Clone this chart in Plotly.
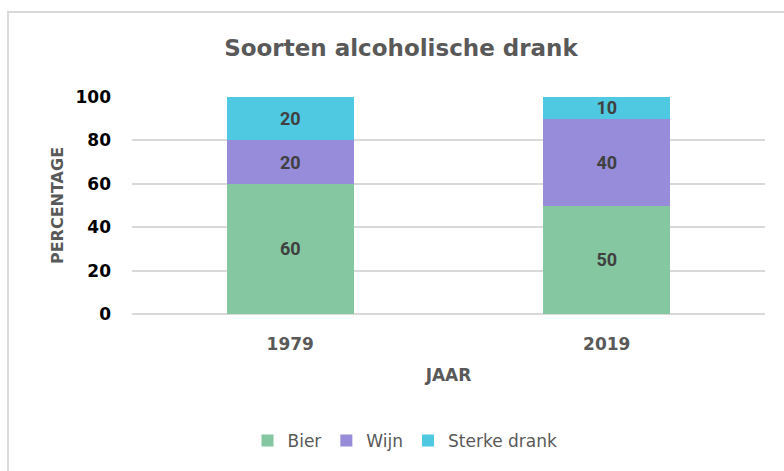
import plotly.graph_objects as go

jaren = ["1979", "2019"]
bier = [60, 50]
wijn = [20, 40]
sterke_drank = [20, 10]
series_names = ["Bier", "Wijn", "Sterke drank"]
colors = ["#84C7A1", "#968CDA", "#4FC8E2"]

W, H = 784, 471
L, R, T, B = 132, 765, 97, 314  # plot area in pixels
FONT = "DejaVu Sans"

def px(x):
    return (x - L) / (R - L)

def py(y):
    return (B - y) / (B - T)

fig = go.Figure()
for name, vals, col in zip(series_names, [bier, wijn, sterke_drank], colors):
    fig.add_trace(go.Bar(
        x=jaren, y=vals, name=name, marker=dict(color=col, line=dict(width=0)),
        text=[str(v) for v in vals], textposition="inside", insidetextanchor="middle",
        textangle=0, constraintext="none",
        textfont=dict(family="Roboto", size=18, color="#404040", weight="bold"),
    ))

fig.update_layout(
    width=W, height=H,
    barmode="stack", bargap=0.6,
    paper_bgcolor="white", plot_bgcolor="white",
    margin=dict(l=L, r=W - R, t=T, b=H - B, pad=0),
    title=dict(text="Soorten alcoholische drank", x=401 / W, xanchor="center",
               y=1 - 48 / H, yanchor="middle", xref="container", yref="container",
               font=dict(family=FONT, size=23, color="#595959", weight="bold")),
    showlegend=True,
    legend=dict(orientation="h", x=px(405), xanchor="center", y=py(441), yanchor="middle",
                font=dict(family=FONT, size=17, color="#595959"), traceorder="normal",
                itemwidth=30, itemsizing="constant"),
    xaxis=dict(showgrid=False, showline=False, ticks="", ticklen=0, ticklabelstandoff=18,
               tickfont=dict(family=FONT, size=17, color="#595959", weight="bold"),
               title=dict(text="JAAR", standoff=16,
                          font=dict(family=FONT, size=17, color="#595959", weight="bold"))),
    yaxis=dict(range=[0, 100], tickvals=[0, 20, 40, 60, 80, 100], showgrid=True,
               gridcolor="#D9D9D9", gridwidth=1.5, zeroline=True, zerolinecolor="#D9D9D9",
               zerolinewidth=1.5, showline=False, ticks="", ticklabelstandoff=20,
               tickfont=dict(family=FONT, size=17, color="#000000", weight="bold"),
               title=dict(text="PERCENTAGE", standoff=7,
                          font=dict(family=FONT, size=16, color="#595959", weight="bold"))),
    shapes=[dict(type="rect", xref="paper", yref="paper",
                 x0=px(8), x1=px(800), y0=py(490), y1=py(12),
                 line=dict(color="#D9D9D9", width=2), fillcolor="rgba(0,0,0,0)", layer="below")],
)

fig.write_html("out.html", config={"displayModeBar": False},
               post_script="document.body.style.margin='0';")
